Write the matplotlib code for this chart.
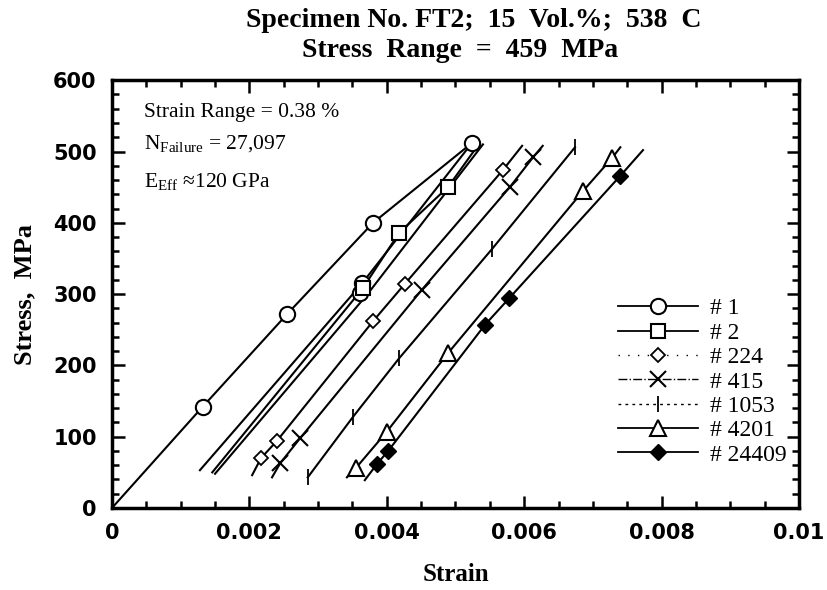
import matplotlib
matplotlib.use("Agg")
import matplotlib.pyplot as plt
from matplotlib.lines import Line2D
from matplotlib.ticker import MultipleLocator

plt.rcParams['mathtext.fontset'] = 'custom'
plt.rcParams['mathtext.rm'] = 'Liberation Serif'

# cycle #1: first loading from zero, then unloading
s1_load_x = [0, 0.00132, 0.00255, 0.0038, 0.00524]
s1_load_y = [0, 142, 272, 400, 512]
s1_unload_x = [0.00524, 0.00364, 0.00128]
s1_unload_y = [512, 315, 53]
s1_mark_x = [0.00132, 0.00255, 0.0038, 0.00524, 0.00361, 0.00364]
s1_mark_y = [142, 272, 400, 512, 301, 315]

# cycle #2
s2_load_x = [0.00146, 0.00365, 0.00418, 0.00489, 0.0053]
s2_load_y = [50, 308, 386, 450, 505]
s2_unload_x = [0.0054, 0.00372, 0.0015]
s2_unload_y = [510, 300, 48]
s2_mark_x = [0.00365, 0.00418, 0.00489]
s2_mark_y = [308, 386, 450]

# later cycles
s224_x = [0.00204, 0.00217, 0.0024, 0.0038, 0.00426, 0.00569, 0.00597]
s224_y = [46, 70, 94, 262, 314, 474, 508]
s415_x = [0.00233, 0.00245, 0.00274, 0.00451, 0.00579, 0.00613, 0.00627]
s415_y = [43, 63, 98, 306, 450, 492, 508]
s1053_x = [0.00285, 0.00351, 0.00418, 0.00553, 0.00674]
s1053_y = [43, 128, 210, 363, 506]
s4201_x = [0.00342, 0.00355, 0.004, 0.00489, 0.00686, 0.00728, 0.0074]
s4201_y = [43, 56, 107, 217, 445, 491, 506]
s24409_x = [0.00368, 0.00386, 0.00402, 0.00543, 0.00578, 0.0074, 0.00773]
s24409_y = [39, 62, 80, 257, 294, 466, 502]

labels = ['# 1', '# 2', '# 224', '# 415', '# 1053', '# 4201', '# 24409']

fig = plt.figure(figsize=(8.27, 5.90), dpi=100)
ax = fig.add_axes([0.1354, 0.139, 0.8307, 0.725])

lw = 1.5
k = 'black'

# lines
ax.plot(s1_load_x, s1_load_y, color=k, lw=lw)
ax.plot(s1_unload_x, s1_unload_y, color=k, lw=lw)
ax.plot(s2_load_x, s2_load_y, color=k, lw=lw)
ax.plot(s2_unload_x, s2_unload_y, color=k, lw=lw)
for xs, ys in [(s224_x, s224_y), (s415_x, s415_y), (s1053_x, s1053_y),
               (s4201_x, s4201_y), (s24409_x, s24409_y)]:
    ax.plot(xs, ys, color=k, lw=lw)

# markers
ax.plot(s1_mark_x, s1_mark_y, 'o', ms=11, mfc='white', mec=k, mew=1.5, ls='none')
ax.plot(s2_mark_x, s2_mark_y, 's', ms=10, mfc='white', mec=k, mew=1.5, ls='none')
ax.plot(s224_x[1:-1], s224_y[1:-1], 'D', ms=7, mfc='white', mec=k, mew=1.3, ls='none')
ax.plot(s415_x[1:-1], s415_y[1:-1], 'x', ms=11, mec=k, mew=1.5, ls='none')
ax.plot(s1053_x, s1053_y, '|', ms=11, mec=k, mew=1.3, ls='none')
ax.plot(s4201_x[1:-1], s4201_y[1:-1], '^', ms=11, mfc='white', mec=k, mew=1.5, ls='none')
ax.plot(s24409_x[1:-1], s24409_y[1:-1], 'D', ms=8, mfc=k, mec=k, ls='none')

ax.set_xlim(0, 0.01)
ax.set_ylim(0, 600)
ax.xaxis.set_major_locator(MultipleLocator(0.002))
ax.xaxis.set_minor_locator(MultipleLocator(0.0005))
ax.yaxis.set_major_locator(MultipleLocator(100))
ax.yaxis.set_minor_locator(MultipleLocator(20))
ax.set_xticks([0, 0.002, 0.004, 0.006, 0.008, 0.01])
ax.set_xticklabels(['0', '0.002', '0.004', '0.006', '0.008', '0.01'])
ax.tick_params(which='both', direction='in', top=True, right=True, width=1.8)
ax.tick_params(which='major', length=9, labelsize=15, pad=11)
ax.tick_params(which='minor', length=5)
for lab in ax.get_xticklabels() + ax.get_yticklabels():
    lab.set_fontweight('bold')
for sp in ax.spines.values():
    sp.set_linewidth(2.5)

ax.set_xlabel('Strain', family='Liberation Serif', fontweight='bold', fontsize=18, labelpad=14)
ax.set_ylabel('Stress,  MPa', family='Liberation Serif', fontweight='bold', fontsize=19, labelpad=12)

fig.text(0.573, 0.965, 'Specimen No. FT2;  15  Vol.%;  538  C', ha='center', va='center',
         family='Liberation Serif', fontweight='bold', fontsize=20)
fig.text(0.556, 0.915, 'Stress  Range  =  459  MPa', ha='center', va='center',
         family='Liberation Serif', fontweight='bold', fontsize=20)

tfont = dict(family='Liberation Serif', fontsize=15.5, transform=ax.transAxes, va='center')
ax.text(0.046, 0.925, 'Strain Range = 0.38 %', **tfont)
ax.text(0.046, 0.850, r'N$_{\mathrm{Failure}}$ = 27,097', **tfont)
ax.text(0.046, 0.762, r'E$_{\mathrm{Eff}}$ ≈120 GPa', **tfont)

handles = [
    Line2D([], [], color=k, lw=1.3, marker='o', ms=11, mfc='white', mew=1.5),
    Line2D([], [], color=k, lw=1.3, marker='s', ms=10, mfc='white', mew=1.5),
    Line2D([], [], color=k, lw=1.0, ls=(0, (1, 6)), marker='D', ms=7, mfc='white', mew=1.3),
    Line2D([], [], color=k, lw=1.0, ls='-.', marker='x', ms=11, mew=1.5),
    Line2D([], [], color=k, lw=1.0, ls=(0, (2, 3)), marker='|', ms=11, mew=1.3),
    Line2D([], [], color=k, lw=1.3, marker='^', ms=11, mfc='white', mew=1.5),
    Line2D([], [], color=k, lw=1.3, marker='D', ms=8, mfc=k),
]
ax.legend(handles, labels, loc='center left', bbox_to_anchor=(0.705, 0.295),
          frameon=False, handlelength=3.4, handletextpad=0.5, labelspacing=0.12,
          prop={'family': 'Liberation Serif', 'size': 17})

fig.savefig('out.png', dpi=100)
